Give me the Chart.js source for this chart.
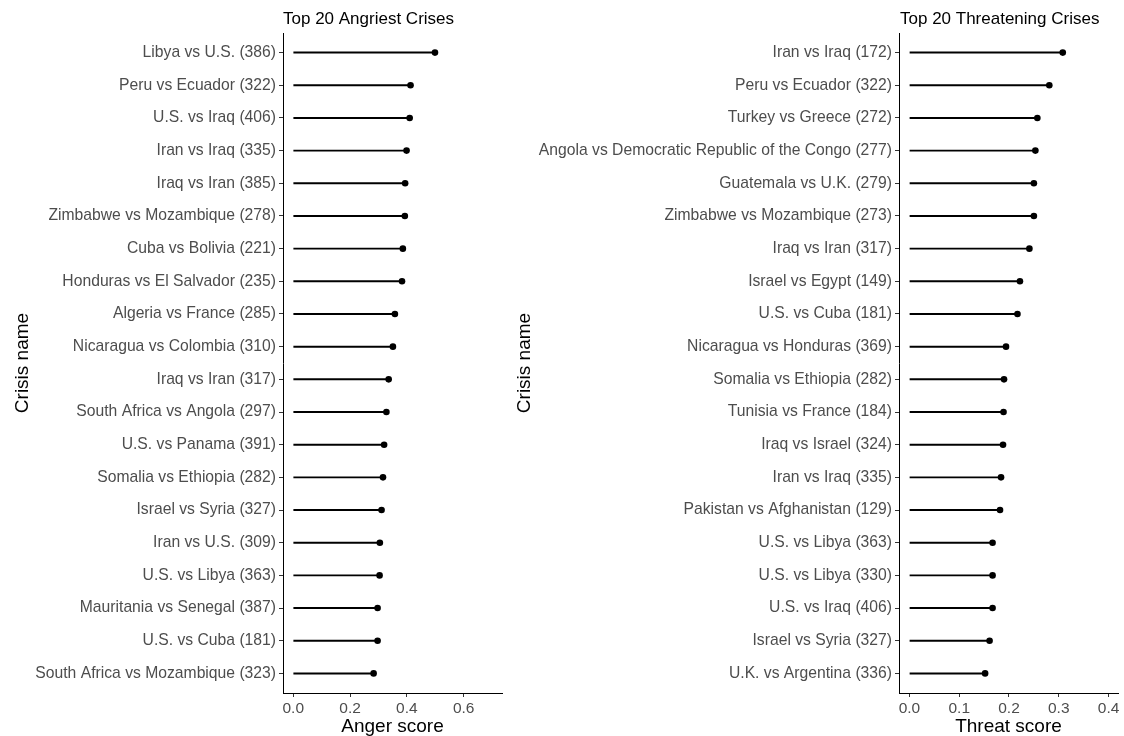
<!DOCTYPE html>
<html>
<head>
<meta charset="utf-8">
<script src="https://cdn.jsdelivr.net/npm/chart.js@4"></script>
<style>
    html, body { margin: 0; padding: 0; background: #fff; }
    #wrap { position: relative; width: 1124px; height: 736px; }
    #chart-anger { position: absolute; left: 0; top: 0; }
    #chart-threat { position: absolute; left: 510px; top: 0; }
</style>
</head>
<body>
<div id="wrap">
    <canvas id="chart-anger" width="510" height="736"></canvas>
    <canvas id="chart-threat" width="614" height="736"></canvas>
</div>
<script>
// Top 20 angriest crises (top to bottom)
const angerNames = [
    'Libya vs U.S. (386)', 'Peru vs Ecuador (322)', 'U.S. vs Iraq (406)', 'Iran vs Iraq (335)',
    'Iraq vs Iran (385)', 'Zimbabwe vs Mozambique (278)', 'Cuba vs Bolivia (221)',
    'Honduras vs El Salvador (235)', 'Algeria vs France (285)', 'Nicaragua vs Colombia (310)',
    'Iraq vs Iran (317)', 'South Africa vs Angola (297)', 'U.S. vs Panama (391)',
    'Somalia vs Ethiopia (282)', 'Israel vs Syria (327)', 'Iran vs U.S. (309)',
    'U.S. vs Libya (363)', 'Mauritania vs Senegal (387)', 'U.S. vs Cuba (181)',
    'South Africa vs Mozambique (323)'
];
const angerScores = [
    0.499, 0.413, 0.410, 0.399, 0.394, 0.393, 0.386, 0.383, 0.358, 0.351,
    0.336, 0.328, 0.320, 0.316, 0.311, 0.305, 0.304, 0.297, 0.297, 0.283
];
const angerTicks = [0, 0.2, 0.4, 0.6];

// Top 20 threatening crises (top to bottom)
const threatNames = [
    'Iran vs Iraq (172)', 'Peru vs Ecuador (322)', 'Turkey vs Greece (272)',
    'Angola vs Democratic Republic of the Congo (277)', 'Guatemala vs U.K. (279)',
    'Zimbabwe vs Mozambique (273)', 'Iraq vs Iran (317)', 'Israel vs Egypt (149)',
    'U.S. vs Cuba (181)', 'Nicaragua vs Honduras (369)', 'Somalia vs Ethiopia (282)',
    'Tunisia vs France (184)', 'Iraq vs Israel (324)', 'Iran vs Iraq (335)',
    'Pakistan vs Afghanistan (129)', 'U.S. vs Libya (363)', 'U.S. vs Libya (330)',
    'U.S. vs Iraq (406)', 'Israel vs Syria (327)', 'U.K. vs Argentina (336)'
];
const threatScores = [
    0.308, 0.281, 0.257, 0.253, 0.250, 0.250, 0.241, 0.222, 0.217, 0.194,
    0.190, 0.189, 0.188, 0.184, 0.182, 0.167, 0.167, 0.167, 0.161, 0.152
];
const threatTicks = [0, 0.1, 0.2, 0.3, 0.4];

const FONT = "'Liberation Sans', Arial, Helvetica, sans-serif";
const TICK_GREY = '#4d4d4d';

// draws the panel title, left aligned with the plot area
const panelTitle = {
    id: 'panelTitle',
    afterDraw(chart, args, opts) {
        const ctx = chart.ctx;
        ctx.save();
        ctx.font = `17px ${FONT}`;
        ctx.fillStyle = '#000';
        ctx.textAlign = 'left';
        ctx.textBaseline = 'alphabetic';
        ctx.fillText(opts.text, chart.chartArea.left + opts.shift, 23.5);
        ctx.restore();
    }
};

function lollipop(id, names, scores, ticks, xMin, xMax, xTitle, title, cfg) {
    const rows = names.map((n, i) => ({ x: scores[i], y: i + 1 }));

    const axisGrid = { drawOnChartArea: false, drawTicks: true, tickLength: 4, color: '#333', lineWidth: 1, offset: false };

    return new Chart(document.getElementById(id), {
        type: 'bar',
        data: {
            datasets: [{
                type: 'bar',
                indexAxis: 'y',
                data: rows,
                backgroundColor: '#000',
                borderWidth: 0,
                barThickness: 1.3,
                order: 2
            }, {
                type: 'scatter',
                data: rows,
                pointRadius: 3.3,
                pointBackgroundColor: '#000',
                pointBorderWidth: 0,
                order: 1
            }]
        },
        options: {
            responsive: false,
            animation: false,
            layout: { padding: { top: 33, right: cfg.padRight, bottom: 0, left: 0 } },
            plugins: {
                legend: { display: false },
                tooltip: { enabled: false },
                panelTitle: { text: title, shift: cfg.titleShift }
            },
            scales: {
                x: {
                    type: 'linear',
                    offset: false,
                    min: xMin,
                    max: xMax,
                    afterBuildTicks: (s) => { s.ticks = ticks.map(v => ({ value: v })); },
                    afterFit: (s) => { s.height = 43; },
                    ticks: {
                        callback: (v) => v.toFixed(1),
                        color: TICK_GREY,
                        font: { family: FONT, size: 15.5 },
                        padding: 2,
                        maxRotation: 0
                    },
                    grid: axisGrid,
                    border: { display: true, color: '#000', width: 1 },
                    title: {
                        display: true,
                        text: xTitle,
                        color: '#000',
                        font: { family: FONT, size: 19, lineHeight: 1 },
                        padding: { top: 0, bottom: 0 }
                    }
                },
                y: {
                    type: 'linear',
                    offset: false,
                    reverse: true,
                    min: 0.4,
                    max: 20.6,
                    afterBuildTicks: (s) => { s.ticks = names.map((n, i) => ({ value: i + 1 })); },
                    afterFit: (s) => { s.width = cfg.axisWidth; },
                    ticks: {
                        callback: (v) => names[v - 1],
                        color: TICK_GREY,
                        font: { family: FONT, size: 15.7 },
                        padding: 3,
                        autoSkip: false
                    },
                    grid: axisGrid,
                    border: { display: true, color: '#000', width: 1 },
                    title: {
                        display: true,
                        text: 'Crisis name',
                        color: '#000',
                        font: { family: FONT, size: 19, lineHeight: 1 },
                        padding: { top: cfg.yTitlePad, bottom: 0 }
                    }
                }
            }
        },
        plugins: [panelTitle]
    });
}

lollipop('chart-anger', angerNames, angerScores, angerTicks, -0.036, 0.735,
    'Anger score', 'Top 20 Angriest Crises',
    { axisWidth: 283, padRight: 8, titleShift: 0, yTitlePad: 13 });

lollipop('chart-threat', threatNames, threatScores, threatTicks, -0.021, 0.419,
    'Threat score', 'Top 20 Threatening Crises',
    { axisWidth: 389, padRight: 6, titleShift: 1, yTitlePad: 5 });
</script>
</body>
</html>
